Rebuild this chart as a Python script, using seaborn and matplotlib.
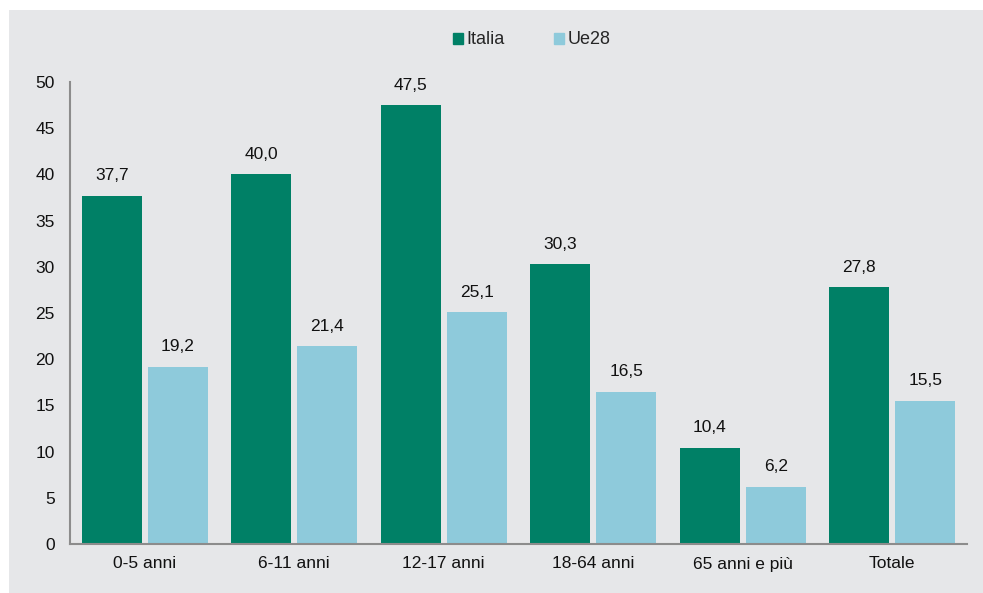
import matplotlib
matplotlib.use("Agg")
import matplotlib.pyplot as plt
import matplotlib.patches as mpatches
import seaborn as sns
import pandas as pd
import numpy as np

categories = ['0-5 anni', '6-11 anni', '12-17 anni', '18-64 anni', '65 anni e più', 'Totale']
italia = [37.7, 40.0, 47.5, 30.3, 10.4, 27.8]
ue28 = [19.2, 21.4, 25.1, 16.5, 6.2, 15.5]
series = ['Italia', 'Ue28']
colors = {'Italia': '#008066', 'Ue28': '#8ecadb'}

df = pd.DataFrame({
    'cat': categories * 2,
    'value': italia + ue28,
    'serie': ['Italia'] * len(categories) + ['Ue28'] * len(categories),
})

bg = '#e6e7e9'
txt = '#111111'
fs = 12.5
sns.set_style('white')
plt.rcParams['font.family'] = ['Liberation Sans', 'DejaVu Sans']

fig = plt.figure(figsize=(9.83, 5.93), dpi=100)
fig.patch.set_facecolor('white')
# grey panel, with a thin white margin at top and left
fig.add_artist(mpatches.Rectangle((9 / 983, -0.05), 1.1, 1.05 - 10 / 593, transform=fig.transFigure,
                                  facecolor=bg, edgecolor='none', zorder=-10))
ax = fig.add_axes([70 / 983, 1 - 544 / 593, (967 - 70) / 983, (544 - 82) / 593])
ax.set_facecolor(bg)

sns.barplot(data=df, x='cat', y='value', hue='serie', palette=colors, order=categories,
            hue_order=series, width=0.88, gap=0.09, saturation=1, linewidth=0,
            ax=ax, legend=False)

for cont in ax.containers:
    ax.bar_label(cont, labels=[f'{v:.1f}'.replace('.', ',') for v in cont.datavalues],
                 padding=9, fontsize=fs, color=txt)

ax.set_ylim(0, 50)
ax.set_xlim(-0.5, len(categories) - 0.5)
ax.set_yticks(range(0, 51, 5))
ax.set_xlabel('')
ax.set_ylabel('')
ax.set_xticks(np.arange(-0.5, len(categories), 1), minor=True)
ax.tick_params(axis='x', which='major', length=0, pad=9, labelsize=fs, labelcolor=txt)
ax.tick_params(axis='x', which='minor', length=5, width=1.2, color='#8c8c8c', direction='out')
ax.tick_params(axis='y', length=5, width=1.2, color='#8c8c8c', direction='out', pad=6,
               labelsize=fs, labelcolor=txt)
for side in ['top', 'right']:
    ax.spines[side].set_visible(False)
for side in ['left', 'bottom']:
    ax.spines[side].set_color('#8c8c8c')
    ax.spines[side].set_linewidth(1.5)

handles = [mpatches.Patch(color=colors[s], label=s) for s in series]
fig.legend(handles=handles, loc='center left', bbox_to_anchor=(453 / 983, 1 - 40 / 593), ncol=2,
           frameon=False, fontsize=13, handlelength=0.55, handleheight=0.55,
           handletextpad=0.2, columnspacing=2.75, borderpad=0, borderaxespad=0)

fig.savefig('out.png', dpi=100, facecolor='white')
